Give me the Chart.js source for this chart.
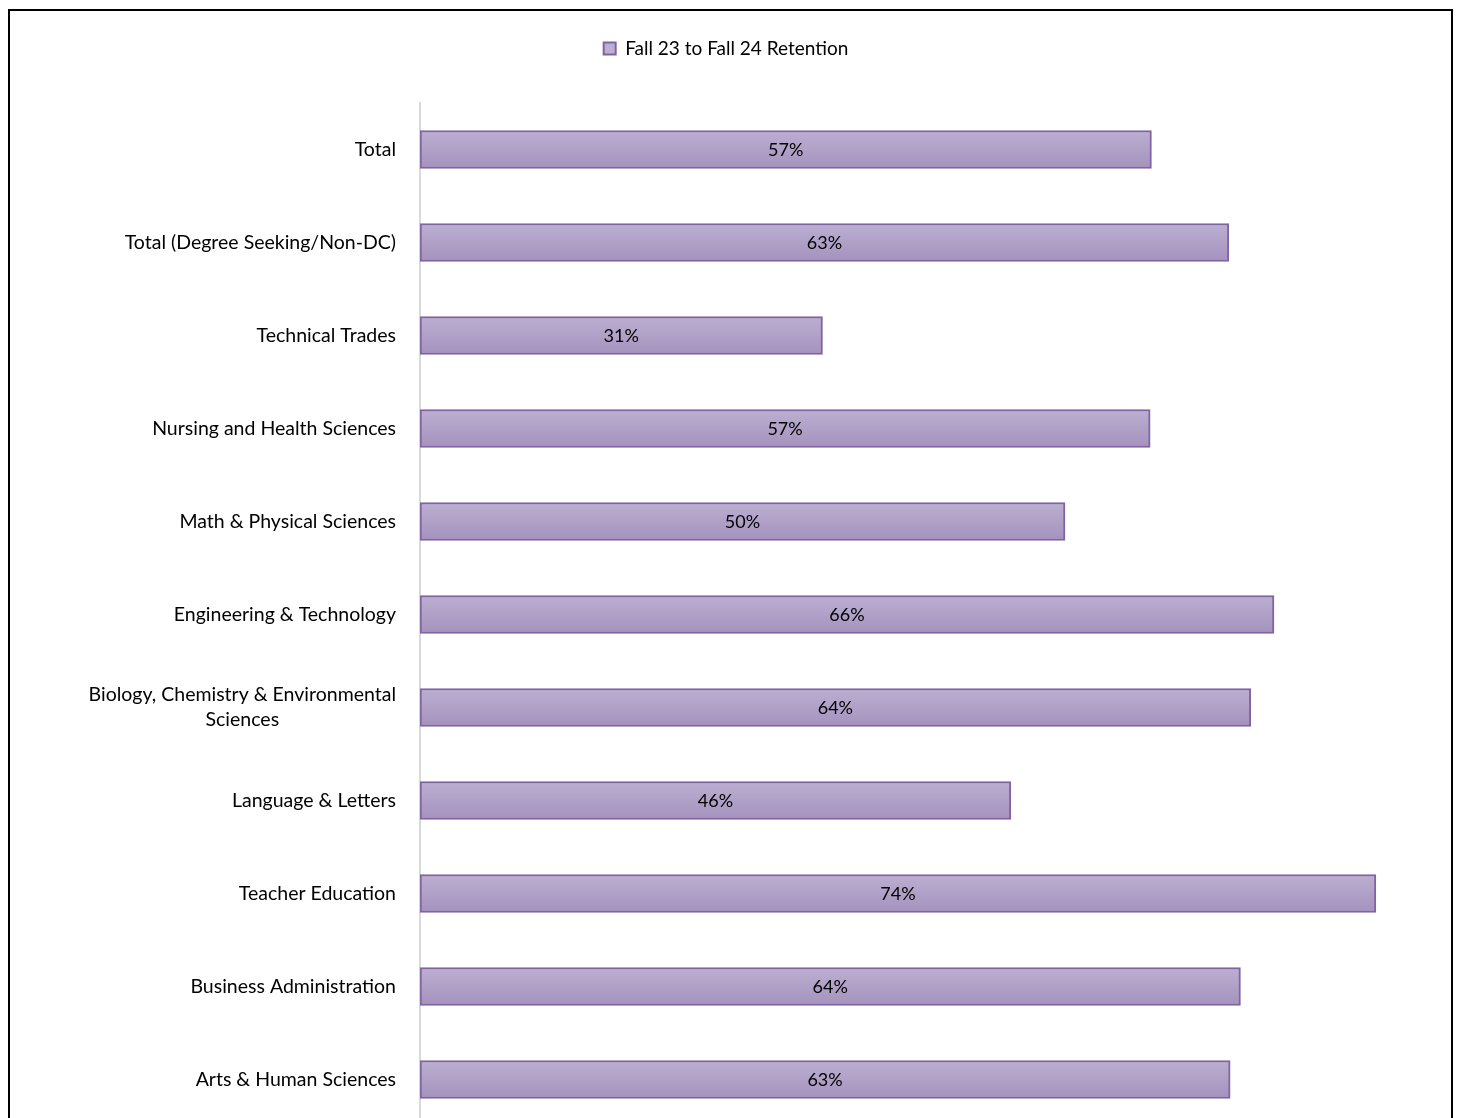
<!DOCTYPE html>
<html>
<head>
<meta charset="utf-8">
<script src="https://cdn.jsdelivr.net/npm/chart.js@4/dist/chart.umd.min.js"></script>
<style>
  html, body { margin: 0; padding: 0; background: #fff; overflow: hidden; }
  #frame {
    position: absolute; left: 8px; top: 9px; width: 1441px; height: 1200px;
    border: 2px solid #000; box-sizing: content-box;
  }
  #wrap { position: absolute; left: 0; top: 0; width: 1458px; height: 1130px; }
</style>
</head>
<body>
<div id="frame"></div>
<div id="wrap"><canvas id="retentionChart"></canvas></div>
<script>
const categories = [
    'Total',
    'Total (Degree Seeking/Non-DC)',
    'Technical Trades',
    'Nursing and Health Sciences',
    'Math & Physical Sciences',
    'Engineering & Technology',
    ['Biology, Chemistry & Environmental', 'Sciences'],
    'Language & Letters',
    'Teacher Education',
    'Business Administration',
    'Arts & Human Sciences'
];
const retention = [0.567, 0.627, 0.312, 0.566, 0.500, 0.662, 0.644, 0.458, 0.741, 0.636, 0.628];
const seriesName = 'Fall 23 to Fall 24 Retention';

const FONT = 'Lato, "Noto Sans", sans-serif';

function barFill(ctx) {
    const chart = ctx.chart;
    const y = chart.scales && chart.scales.y;
    if (ctx.dataIndex === undefined || !y || !chart.chartArea) return '#ad9dc4';
    const c = y.getPixelForValue(ctx.dataIndex);
    const g = chart.ctx.createLinearGradient(0, c - 19, 0, c + 19);
    g.addColorStop(0, '#bcafd1');
    g.addColorStop(1, '#a492bd');
    return g;
}

// extra room under the legend
const legendGap = {
    id: 'legendGap',
    beforeInit(chart) {
        const fit = chart.legend.fit;
        chart.legend.fit = function () {
            fit.bind(chart.legend)();
            this.height += 35;
        };
    }
};

const categoryLabels = {
    id: 'categoryLabels',
    afterDraw(chart) {
        const ctx = chart.ctx;
        const y = chart.scales.y;
        ctx.save();
        ctx.font = '19.5px ' + FONT;
        ctx.fillStyle = '#000';
        ctx.textBaseline = 'middle';
        ctx.textAlign = 'center';
        const right = 396;
        const lineH = 25;
        categories.forEach((lab, i) => {
            const lines = Array.isArray(lab) ? lab : [lab];
            const w = Math.max(...lines.map(l => ctx.measureText(l).width));
            const cx = right - w / 2;
            const cy = y.getPixelForValue(i) - (lines.length - 1) * lineH / 2;
            lines.forEach((l, k) => ctx.fillText(l, cx, cy + k * lineH));
        });
        ctx.restore();
    }
};

const valueLabels = {
    id: 'valueLabels',
    afterDatasetsDraw(chart) {
        const ctx = chart.ctx;
        const meta = chart.getDatasetMeta(0);
        ctx.save();
        ctx.font = '18px ' + FONT;
        ctx.fillStyle = '#000';
        ctx.textAlign = 'center';
        ctx.textBaseline = 'middle';
        meta.data.forEach((bar, i) => {
            ctx.fillText(Math.round(retention[i] * 100) + '%', (bar.x + bar.base) / 2, bar.y + 1);
        });
        ctx.restore();
    }
};

new Chart(document.getElementById('retentionChart'), {
    type: 'bar',
    data: {
        labels: categories,
        datasets: [{
            label: seriesName,
            data: retention,
            backgroundColor: barFill,
            borderColor: '#8064a2',
            borderWidth: 2,
            borderSkipped: false,
            barThickness: 38
        }]
    },
    options: {
        indexAxis: 'y',
        responsive: true,
        maintainAspectRatio: false,
        animation: false,
        layout: { padding: { top: 31, bottom: 4, left: 0, right: 6 } },
        plugins: {
            legend: {
                position: 'top',
                labels: {
                    font: { family: FONT, size: 19 },
                    color: '#000',
                    boxWidth: 12,
                    boxHeight: 12,
                    padding: 8
                }
            },
            tooltip: { enabled: false }
        },
        scales: {
            x: {
                display: false,
                min: 0,
                max: 0.8
            },
            y: {
                grid: { display: false },
                border: { display: true, color: '#d9d9d9', width: 2 },
                ticks: { display: false },
                afterFit(scale) { scale.width = 420; }
            }
        }
    },
    plugins: [legendGap, categoryLabels, valueLabels]
});
</script>
</body>
</html>
